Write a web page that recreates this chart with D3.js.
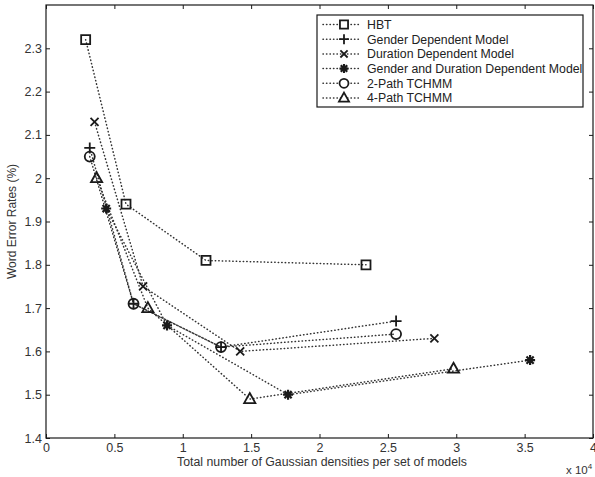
<!DOCTYPE html>
<html>
<head>
<meta charset="utf-8">
<script src="https://cdn.jsdelivr.net/npm/d3@7"></script>
<style>
  body { margin: 0; background: #fff; }
  svg { display: block; font-family: "Liberation Sans", Arial, sans-serif; }
</style>
</head>
<body>
<div id="chart"></div>
<script>
// series values (x in units of 10^4 densities, y in %)
const hbtX = [0.29, 0.585, 1.17, 2.34];
const hbtY = [2.32, 1.94, 1.81, 1.80];
const genderX = [0.32, 0.64, 1.28, 2.56];
const genderY = [2.07, 1.71, 1.61, 1.67];
const durationX = [0.355, 0.71, 1.42, 2.84];
const durationY = [2.13, 1.75, 1.60, 1.63];
const genDurX = [0.44, 0.885, 1.77, 3.54];
const genDurY = [1.93, 1.66, 1.50, 1.58];
const path2X = [0.32, 0.64, 1.28, 2.56];
const path2Y = [2.05, 1.71, 1.61, 1.64];
const path4X = [0.37, 0.745, 1.49, 2.98];
const path4Y = [2.00, 1.70, 1.49, 1.56];

const seriesNames = ["HBT", "Gender Dependent Model", "Duration Dependent Model",
  "Gender and Duration Dependent Model", "2-Path TCHMM", "4-Path TCHMM"];
const seriesMarkers = ["square", "plus", "cross", "star", "circle", "triangle"];

const xTicks = [0, 0.5, 1, 1.5, 2, 2.5, 3, 3.5, 4];
const yTicks = [1.4, 1.5, 1.6, 1.7, 1.8, 1.9, 2, 2.1, 2.2, 2.3];

const series = [
  [hbtX, hbtY], [genderX, genderY], [durationX, durationY],
  [genDurX, genDurY], [path2X, path2Y], [path4X, path4Y]
].map((s, i) => ({
  name: seriesNames[i],
  marker: seriesMarkers[i],
  points: s[0].map((x, j) => ({ x: x, y: s[1][j] }))
}));

const width = 595, height = 477;
const margin = { left: 46, right: 2, top: 5, bottom: 39 };

const svg = d3.select("#chart").append("svg")
  .attr("width", width)
  .attr("height", height);

const x = d3.scaleLinear().domain([0, 4]).range([margin.left, width - margin.right]);
const y = d3.scaleLinear().domain([1.4, 2.4]).range([height - margin.bottom, margin.top]);

// marker glyphs, drawn around (0,0)
function markerPath(kind) {
  switch (kind) {
    case "square": return "M-4.5,-4.5H4.5V4.5H-4.5Z";
    case "plus": return "M-5.5,0H5.5M0,-5.5V5.5";
    case "cross": return "M-4,-4L4,4M-4,4L4,-4";
    case "star": return "M-5,0H5M0,-5V5M-3.6,-3.6L3.6,3.6M-3.6,3.6L3.6,-3.6";
    case "circle": return "M5,0A5,5 0 1,1 -5,0A5,5 0 1,1 5,0Z";
    case "triangle": return "M0,-6L5.6,4H-5.6Z";
  }
}

const ink = "#1a1a1a";

// axes box
const plotW = width - margin.left - margin.right;
const plotH = height - margin.top - margin.bottom;

svg.append("rect")
  .attr("x", margin.left).attr("y", margin.top)
  .attr("width", plotW).attr("height", plotH)
  .attr("fill", "none").attr("stroke", ink).attr("stroke-width", 1.2);

// ticks pointing inwards on all four sides
const xAxisB = d3.axisBottom(x).tickValues(xTicks).tickSize(-4).tickPadding(5)
  .tickFormat(d3.format("~g"));
const xAxisT = d3.axisTop(x).tickValues(xTicks).tickSize(-4).tickFormat("");
const yAxisL = d3.axisLeft(y).tickValues(yTicks).tickSize(-4).tickPadding(4)
  .tickFormat(d3.format("~g"));
const yAxisR = d3.axisRight(y).tickValues(yTicks).tickSize(-4).tickFormat("");

function styleAxis(g) {
  g.select(".domain").remove();
  g.selectAll(".tick line").attr("stroke", ink);
  g.selectAll(".tick text").attr("fill", "#333").style("font-size", "12.5px");
}

svg.append("g").attr("transform", `translate(0,${height - margin.bottom})`).call(xAxisB).call(styleAxis);
svg.append("g").attr("transform", `translate(0,${margin.top})`).call(xAxisT).call(styleAxis);
svg.append("g").attr("transform", `translate(${margin.left},0)`).call(yAxisL).call(styleAxis);
svg.append("g").attr("transform", `translate(${width - margin.right},0)`).call(yAxisR).call(styleAxis);

// labels
svg.append("text")
  .attr("x", 322).attr("y", 466)
  .attr("text-anchor", "middle")
  .attr("fill", "#333")
  .style("font-size", "12.3px")
  .text("Total number of Gaussian densities per set of models");

svg.append("text")
  .attr("transform", `translate(16,${(margin.top + height - margin.bottom) / 2}) rotate(-90)`)
  .attr("text-anchor", "middle")
  .attr("fill", "#333")
  .style("font-size", "12px")
  .text("Word Error Rates (%)");

const expo = svg.append("text")
  .attr("x", 566).attr("y", 474)
  .attr("fill", "#333")
  .style("font-size", "11.5px");
expo.append("tspan").text("x 10");
expo.append("tspan").attr("dy", -5).style("font-size", "8px").text("4");

// dotted lines
const line = d3.line().x(d => x(d.x)).y(d => y(d.y));

svg.append("g").selectAll("path")
  .data(series)
  .join("path")
  .attr("d", d => line(d.points))
  .attr("fill", "none")
  .attr("stroke", "#333")
  .attr("stroke-width", 1.5)
  .attr("stroke-linecap", "round")
  .attr("stroke-dasharray", "0.4,3.1");

// markers
series.forEach(s => {
  svg.append("g").selectAll("path")
    .data(s.points)
    .join("path")
    .attr("transform", d => `translate(${x(d.x)},${y(d.y)})`)
    .attr("d", markerPath(s.marker))
    .attr("fill", "none")
    .attr("stroke", ink)
    .attr("stroke-width", s.marker === "star" ? 2.2 : 1.8);
});

// legend
const legX = 317, legY = 15, legW = 266, legH = 92, rowH = 14.7;
const legend = svg.append("g");
legend.append("rect")
  .attr("x", legX).attr("y", legY)
  .attr("width", legW).attr("height", legH)
  .attr("fill", "#fff").attr("stroke", ink).attr("stroke-width", 1.2);

const rows = legend.selectAll("g.row")
  .data(series)
  .join("g")
  .attr("class", "row")
  .attr("transform", (d, i) => `translate(${legX},${legY + 9.5 + i * rowH})`);

rows.append("line")
  .attr("x1", 6).attr("x2", 44)
  .attr("stroke", "#333").attr("stroke-width", 1.5)
  .attr("stroke-linecap", "round")
  .attr("stroke-dasharray", "0.4,3.1");

rows.append("path")
  .attr("transform", "translate(27,0) scale(0.9)")
  .attr("d", d => markerPath(d.marker))
  .attr("fill", "#fff")
  .attr("stroke", ink)
  .attr("stroke-width", d => d.marker === "star" ? 2.4 : 2);

rows.append("text")
  .attr("x", 50).attr("dy", "0.36em")
  .attr("fill", "#222")
  .style("font-size", "12.3px")
  .text(d => d.name);
</script>
</body>
</html>
